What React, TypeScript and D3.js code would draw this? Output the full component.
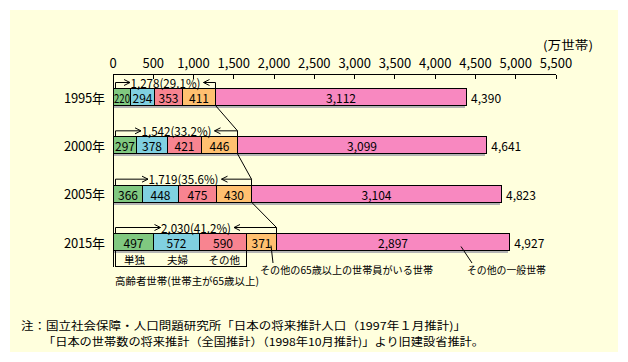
import React, { useEffect, useRef } from "react";
import * as d3 from "d3";

const years = ["1995年", "2000年", "2005年", "2015年"];
const singleElderly = [220, 297, 366, 497];
const coupleElderly = [294, 378, 448, 572];
const otherElderly = [353, 421, 475, 590];
const otherWith65 = [411, 446, 430, 371];
const otherGeneral = [3112, 3099, 3104, 2897];
const totals = [4390, 4641, 4823, 4927];
const elderlyTotals = [1278, 1542, 1719, 2030];
const elderlyShares = ["29.1", "33.2", "35.6", "41.2"];
const xTicks = [0, 500, 1000, 1500, 2000, 2500, 3000, 3500, 4000, 4500, 5000, 5500];
const seriesKeys = ["single", "couple", "other", "with65", "general"];
const seriesColors = ["#80C880", "#80D0E0", "#F88490", "#FFC070", "#F888C0"];
const elderlyLabels = ["単独", "夫婦", "その他"];
const unitLabel = "(万世帯)";
const elderlyNote = "高齢者世帯(世帯主が65歳以上)";
const with65Note = "その他の65歳以上の世帯員がいる世帯";
const generalNote = "その他の一般世帯";
const sourceLines = [
  "注：国立社会保障・人口問題研究所「日本の将来推計人口（1997年１月推計)」",
  "「日本の世帯数の将来推計（全国推計）（1998年10月推計)」より旧建設省推計。",
];

const FONT = "'Noto Sans CJK JP', 'Noto Sans', sans-serif";

export default function App() {
  const ref = useRef<SVGSVGElement | null>(null);

  useEffect(() => {
    const svg = d3.select(ref.current);
    svg.selectAll("*").remove();
    svg.attr("font-family", FONT);

    const x = d3.scaleLinear().domain([0, 5500]).range([112.5, 555.5]);
    const y = d3.scalePoint<string>().domain(years).range([88, 233]);
    const barH = 17;
    const axisY = 74.5;
    const fmt = d3.format(",");

    svg.append("rect").attr("width", 628).attr("height", 362).attr("fill", "#fff");
    svg.append("rect").attr("x", 10).attr("y", 10).attr("width", 608).attr("height", 342).attr("fill", "#FFFFDD");

    // axis
    const g = svg.append("g");
    g.append("line").attr("x1", x(0)).attr("x2", x(5500)).attr("y1", axisY).attr("y2", axisY)
      .attr("stroke", "#000").attr("shape-rendering", "crispEdges");
    xTicks.forEach((t) => {
      g.append("line").attr("x1", Math.round(x(t)) + 0.5).attr("x2", Math.round(x(t)) + 0.5)
        .attr("y1", axisY).attr("y2", axisY + 4).attr("stroke", "#000").attr("shape-rendering", "crispEdges");
      g.append("text").attr("x", x(t) + 0.5).attr("y", 62.5).attr("text-anchor", "middle")
        .attr("dominant-baseline", "central").attr("font-size", 13).text(fmt(t));
    });
    g.append("text").attr("x", 593).attr("y", 44.5).attr("text-anchor", "end")
      .attr("dominant-baseline", "central").attr("font-size", 12)
      .attr("textLength", 50).attr("lengthAdjust", "spacingAndGlyphs").text(unitLabel);

    const rows = years.map((yr, i) => ({
      year: yr,
      single: singleElderly[i],
      couple: coupleElderly[i],
      other: otherElderly[i],
      with65: otherWith65[i],
      general: otherGeneral[i],
    }));
    const stacked = d3.stack<any>().keys(seriesKeys)(rows);

    // shadows
    years.forEach((yr, i) => {
      const top = y(yr)!;
      svg.append("rect").attr("x", Math.round(x(0))).attr("y", top + 3)
        .attr("width", Math.round(x(totals[i])) - Math.round(x(0)) - 1).attr("height", barH)
        .attr("fill", "#B4B4B4").attr("shape-rendering", "crispEdges");
    });

    // vertical axis line
    svg.append("line").attr("x1", Math.round(x(0)) + 0.5).attr("x2", Math.round(x(0)) + 0.5)
      .attr("y1", axisY).attr("y2", 267).attr("stroke", "#000").attr("shape-rendering", "crispEdges");

    // bars
    stacked.forEach((s, k) => {
      s.forEach((d, i) => {
        const top = y(years[i])!;
        const x0 = Math.round(x(d[0])) + 0.5;
        const x1 = Math.round(x(d[1])) + 0.5;
        svg.append("rect").attr("x", x0).attr("y", top + 0.5).attr("width", x1 - x0).attr("height", barH)
          .attr("fill", seriesColors[k]).attr("stroke", "#000").attr("stroke-width", 1)
          .attr("shape-rendering", "crispEdges");
        const t = svg.append("text").attr("x", (x0 + x1) / 2).attr("y", top + barH / 2 + 1)
          .attr("text-anchor", "middle").attr("dominant-baseline", "central").attr("font-size", 12)
          .text(fmt(d[1] - d[0]));
        const w = (t.node() as SVGTextElement).getComputedTextLength();
        if (w > x1 - x0 - 1) {
          t.attr("textLength", x1 - x0 - 1).attr("lengthAdjust", "spacingAndGlyphs");
        }
      });
    });

    // year labels and totals
    years.forEach((yr, i) => {
      const top = y(yr)!;
      svg.append("text").attr("x", 105).attr("y", top + barH / 2 + 0.5).attr("text-anchor", "end")
        .attr("dominant-baseline", "central").attr("font-size", 13)
        .attr("textLength", 41).attr("lengthAdjust", "spacing").text(yr);
      svg.append("text").attr("x", x(totals[i]) + 5).attr("y", top + barH / 2 + 1)
        .attr("dominant-baseline", "central").attr("font-size", 12).text(fmt(totals[i]));
    });

    // brackets above
    const bracketW = 70;
    years.forEach((yr, i) => {
      const top = y(yr)! + 0.5;
      const lineY = top - 6;
      const left = Math.round(x(0)) + 2.5;
      const right = Math.round(x(elderlyTotals[i])) + 0.5;
      const mid = (left + right) / 2;
      svg.append("text").attr("x", mid).attr("y", lineY - 0.5).attr("text-anchor", "middle")
        .attr("dominant-baseline", "central").attr("font-size", 12)
        .attr("textLength", bracketW).attr("lengthAdjust", "spacingAndGlyphs")
        .text(`${fmt(elderlyTotals[i])}(${elderlyShares[i]}%)`);
      const tl = mid - bracketW / 2 - 0.5;
      const tr = mid + bracketW / 2 + 3;
      svg.append("path").attr("d", `M${left},${top}V${lineY}H${tl}M${tl - 6},${lineY - 3}L${tl},${lineY}L${tl - 6},${lineY + 3}`)
        .attr("fill", "none").attr("stroke", "#000");
      svg.append("path").attr("d", `M${right},${top}V${lineY}H${tr}M${tr + 6},${lineY - 3}L${tr},${lineY}L${tr + 6},${lineY + 3}`)
        .attr("fill", "none").attr("stroke", "#000");
      if (i > 0) {
        const pTop = y(years[i - 1])! + 0.5;
        svg.append("line").attr("x1", Math.round(x(elderlyTotals[i - 1])) + 0.5).attr("y1", pTop + barH)
          .attr("x2", right).attr("y2", lineY).attr("stroke", "#000");
      }
    });

    // bottom bracket under last bar
    const last = years.length - 1;
    const lastTop = y(years[last])! + 0.5;
    const lastBottom = lastTop + barH;
    const bl = Math.round(x(0)) + 2.5;
    const br = Math.round(x(singleElderly[last] + coupleElderly[last] + otherElderly[last])) + 0.5;
    svg.append("path").attr("d", `M${bl},${lastBottom}V266.5H${br}V${lastBottom}`)
      .attr("fill", "none").attr("stroke", "#000").attr("shape-rendering", "crispEdges");
    stacked.slice(0, 3).forEach((s, k) => {
      const d = s[last];
      svg.append("text").attr("x", (x(d[0]) + x(d[1])) / 2 + 2).attr("y", 259)
        .attr("text-anchor", "middle").attr("dominant-baseline", "central").attr("font-size", 10.5)
        .text(elderlyLabels[k]);
    });
    svg.append("text").attr("x", 115).attr("y", 280).attr("dominant-baseline", "central")
      .attr("font-size", 10.5).attr("textLength", 144).attr("lengthAdjust", "spacingAndGlyphs").text(elderlyNote);

    // leader for with65
    const w65r = x(elderlyTotals[last]);
    svg.append("line").attr("x1", w65r - 5).attr("y1", lastTop + 12).attr("x2", w65r - 3).attr("y2", 263)
      .attr("stroke", "#000");
    svg.append("text").attr("x", 260).attr("y", 269).attr("dominant-baseline", "central")
      .attr("font-size", 10.5).attr("textLength", 173).attr("lengthAdjust", "spacingAndGlyphs").text(with65Note);

    // leader for general
    svg.append("line").attr("x1", 461).attr("y1", lastTop + 13).attr("x2", 472).attr("y2", 263)
      .attr("stroke", "#000");
    svg.append("text").attr("x", 467).attr("y", 269).attr("dominant-baseline", "central")
      .attr("font-size", 10.5).attr("textLength", 79).attr("lengthAdjust", "spacingAndGlyphs").text(generalNote);

    // source notes
    svg.append("text").attr("x", 21).attr("y", 324.5).attr("dominant-baseline", "central")
      .attr("font-size", 11).attr("textLength", 445).attr("lengthAdjust", "spacingAndGlyphs").text(sourceLines[0]);
    svg.append("text").attr("x", 43).attr("y", 340.5).attr("dominant-baseline", "central")
      .attr("font-size", 11).attr("textLength", 441).attr("lengthAdjust", "spacingAndGlyphs").text(sourceLines[1]);
  }, []);

  return (
    <div style={{ position: "absolute", left: 0, top: 0 }}>
      <svg ref={ref} width={628} height={362} style={{ display: "block" }} />
    </div>
  );
}
